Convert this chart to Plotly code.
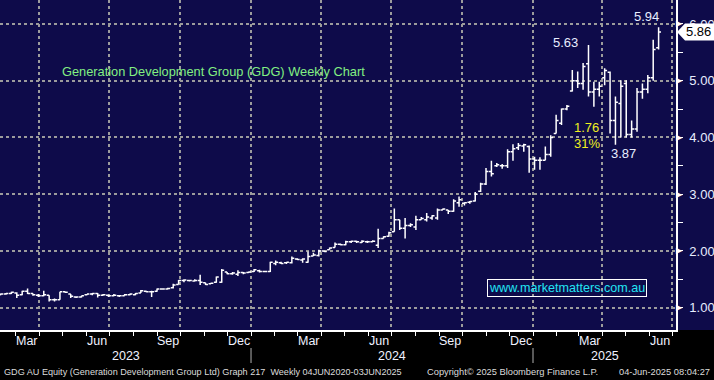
import plotly.graph_objects as go
import pandas as pd

# ---- weekly OHLC ----
opens = [1.23,1.24,1.25,1.26,1.23,1.29,1.25,1.22,1.21,1.22,
         1.14,1.14,1.28,1.24,1.19,1.19,1.23,1.24,1.25,1.22,
         1.22,1.21,1.21,1.21,1.23,1.23,1.26,1.29,1.28,1.29,
         1.33,1.33,1.35,1.41,1.48,1.48,1.47,1.48,1.44,1.42,
         1.45,1.45,1.63,1.60,1.59,1.62,1.62,1.64,1.65,1.64,
         1.64,1.78,1.79,1.79,1.79,1.86,1.84,1.80,1.91,1.92,
         2.00,2.02,2.06,2.12,2.11,2.16,2.17,2.15,2.16,2.16,
         2.10,2.22,2.26,2.34,2.55,2.40,2.45,2.42,2.55,2.55,
         2.58,2.58,2.72,2.72,2.70,2.85,2.84,2.86,2.88,3.05,
         3.18,3.40,3.50,3.50,3.50,3.75,3.82,3.85,3.84,3.62,
         3.60,3.60,3.70,4.07,4.25,4.50,4.82,5.00,4.95,5.30,
         4.80,4.85,5.05,5.15,4.30,4.60,4.95,4.05,4.15,4.80,
         4.85,5.05,5.58]
highs = [1.25,1.26,1.28,1.27,1.30,1.34,1.25,1.24,1.30,1.22,
         1.16,1.28,1.28,1.24,1.20,1.21,1.24,1.26,1.26,1.24,
         1.23,1.24,1.22,1.24,1.25,1.26,1.31,1.30,1.30,1.34,
         1.34,1.35,1.42,1.49,1.50,1.49,1.50,1.58,1.44,1.44,
         1.55,1.68,1.63,1.63,1.66,1.63,1.64,1.68,1.67,1.65,
         1.81,1.83,1.81,1.80,1.90,1.87,1.87,1.99,1.97,2.02,
         2.01,2.06,2.15,2.13,2.18,2.18,2.18,2.19,2.18,2.19,
         2.39,2.26,2.34,2.75,2.55,2.58,2.49,2.62,2.60,2.67,
         2.63,2.75,2.75,2.72,2.91,2.96,2.86,2.88,3.04,3.20,
         3.46,3.59,3.55,3.53,3.79,3.88,3.90,3.89,3.86,3.66,
         3.65,3.84,4.04,4.40,4.51,4.57,5.19,5.16,5.31,5.63,
         4.98,4.98,5.22,5.16,4.72,5.01,5.01,4.30,4.87,4.95,
         5.10,5.72,5.94]
lows = [1.22,1.23,1.24,1.17,1.22,1.24,1.21,1.19,1.20,1.11,
        1.11,1.14,1.26,1.17,1.17,1.18,1.22,1.22,1.18,1.21,
        1.19,1.20,1.19,1.21,1.22,1.22,1.26,1.27,1.19,1.28,
        1.32,1.32,1.34,1.41,1.45,1.46,1.46,1.40,1.40,1.42,
        1.44,1.44,1.59,1.58,1.56,1.59,1.61,1.63,1.62,1.63,
        1.63,1.75,1.77,1.77,1.78,1.84,1.79,1.79,1.91,1.90,
        1.98,2.02,2.06,2.10,2.10,2.14,2.14,2.14,2.14,2.16,
        2.05,2.22,2.25,2.34,2.37,2.22,2.42,2.37,2.55,2.52,
        2.55,2.55,2.72,2.65,2.69,2.78,2.80,2.83,2.87,3.04,
        3.16,3.31,3.48,3.45,3.46,3.59,3.78,3.75,3.38,3.43,
        3.43,3.60,3.66,4.07,4.22,4.48,4.81,4.87,4.84,4.72,
        4.54,4.72,4.92,4.07,3.87,4.00,4.00,4.00,4.10,4.68,
        4.78,5.00,5.55]
closes = [1.24,1.25,1.27,1.22,1.29,1.25,1.23,1.21,1.23,1.14,
          1.14,1.28,1.27,1.20,1.19,1.21,1.24,1.25,1.22,1.23,
          1.21,1.22,1.21,1.23,1.24,1.25,1.30,1.28,1.28,1.33,
          1.33,1.34,1.40,1.48,1.49,1.48,1.48,1.45,1.41,1.43,
          1.54,1.66,1.60,1.61,1.62,1.61,1.63,1.67,1.64,1.64,
          1.80,1.80,1.78,1.80,1.87,1.85,1.86,1.90,1.93,2.00,
          1.99,2.05,2.12,2.11,2.16,2.17,2.16,2.17,2.16,2.17,
          2.22,2.25,2.32,2.55,2.40,2.45,2.46,2.55,2.57,2.60,
          2.62,2.72,2.74,2.70,2.88,2.90,2.85,2.87,3.00,3.18,
          3.40,3.36,3.52,3.50,3.75,3.80,3.86,3.87,3.62,3.60,
          3.60,3.70,4.00,4.30,4.50,4.55,5.00,4.95,5.25,4.80,
          4.85,4.90,5.18,4.30,4.62,4.90,4.05,4.15,4.80,4.85,
          5.05,5.55,5.86]
last_week = "2025-06-13"
dates = pd.date_range(end=last_week, periods=len(opens), freq="7D")

month_labels = ["Mar", "Jun", "Sep", "Dec", "Mar", "Jun", "Sep", "Dec", "Mar", "Jun"]
month_dates = ["2023-03-16", "2023-06-15", "2023-09-15", "2023-12-16",
               "2024-03-16", "2024-06-15", "2024-09-15", "2024-12-16",
               "2025-03-16", "2025-06-15"]
year_labels = ["2023", "2024", "2025"]
year_starts = ["2024-01-01", "2025-01-01"]
price_ticks = [1, 2, 3, 4, 5, 6]

title_text = "Generation Development Group (GDG) Weekly Chart"
site_text = "www.marketmatters.com.au"
footer_left = "GDG AU Equity (Generation Development Group Ltd) Graph 217  Weekly 04JUN2020-03JUN2025"
footer_mid = "Copyright\u00a9 2025 Bloomberg Finance L.P."
footer_right = "04-Jun-2025 08:04:27"

# ---- styling ----
NAVY = "#0e0b4a"
GRID = "#9c9c9c"
LABEL = "#e8eeff"
FONT = "Liberation Sans, Arial, sans-serif"

W, H = 714, 380
PL, PR, PT, PB = 0, 38, 0, 50
PW, PH = W - PL - PR, H - PT - PB
x_range = ["2023-02-09 05:00", "2025-07-05 14:00"]
y_range = [0.607, 6.422]

fig = go.Figure()
fig.add_trace(go.Ohlc(
    x=dates, open=opens, high=highs, low=lows, close=closes,
    increasing=dict(line=dict(color="white", width=1.5)),
    decreasing=dict(line=dict(color="white", width=1.5)),
    tickwidth=0.45, hoverinfo="skip", showlegend=False,
))

def px_x(p):
    return (p - PL) / PW

def px_y(p):
    return (PT + PH - p) / PH

# black strip under the plot
fig.add_shape(type="rect", xref="paper", yref="paper", x0=-0.02, x1=1.1,
              y0=-PB / PH - 0.01, y1=0, fillcolor="black", line_width=0, layer="below")

# year separators
for ys in year_starts:
    fig.add_shape(type="line", xref="x", yref="paper", x0=ys, x1=ys,
                  y0=px_y(348), y1=px_y(363), line=dict(color="#b0b0b0", width=1))

ann = []
for lab, d in zip(month_labels, month_dates):
    ann.append(dict(x=d, y=px_y(341), xref="x", yref="paper", text=lab, showarrow=False,
                    font=dict(family=FONT, size=12.5, color="#f0f2ff"), xanchor="center", yanchor="middle"))
bounds = [pd.Timestamp(x_range[0])] + [pd.Timestamp(s) for s in year_starts] + [pd.Timestamp(x_range[1])]
for lab, a, b in zip(year_labels, bounds[:-1], bounds[1:]):
    mid = a + (b - a) / 2
    ann.append(dict(x=mid, y=px_y(356), xref="x", yref="paper", text=lab, showarrow=False,
                    font=dict(family=FONT, size=12.5, color="#f0f2ff"), xanchor="center", yanchor="middle"))
for txt, xp, anc, fs in [(footer_left, 2, "left", 9.1), (footer_mid, 425, "left", 9.3),
                         (footer_right, 712, "right", 9.3)]:
    ann.append(dict(x=px_x(xp), y=px_y(372), xref="paper", yref="paper", text=txt, showarrow=False,
                    font=dict(family=FONT, size=fs, color="#dcdcdc"), xanchor=anc, yanchor="middle"))
for v in price_ticks:
    ann.append(dict(x=1.0, y=v, xref="paper", yref="y", text="\u25b6", showarrow=False,
                    font=dict(family="DejaVu Sans", size=8, color="white"), xanchor="left", yanchor="middle",
                    xshift=-2))

ann.append(dict(x=px_x(60), y=px_y(72), xref="paper", yref="paper", text=title_text, showarrow=False,
                font=dict(family=FONT, size=12.8, color="#82f082"), xanchor="left", yanchor="middle"))
ann.append(dict(x=px_x(567), y=px_y(288), xref="paper", yref="paper", text=site_text, showarrow=False,
                font=dict(family=FONT, size=12.6, color="#22e4f4"), xanchor="center", yanchor="middle",
                bordercolor="white", borderwidth=1, borderpad=1))

i_peak = max(range(100, 115), key=lambda i: highs[i])
i_low = min(range(i_peak, len(lows)), key=lambda i: lows[i])
drop = highs[i_peak] - lows[i_low]
pct = drop / highs[i_peak] * 100
ann.append(dict(x=dates[i_peak], y=highs[i_peak], text=f"{highs[i_peak]:.2f}", showarrow=False,
                font=dict(family=FONT, size=13, color=LABEL), xanchor="right", yanchor="middle",
                xshift=-8, yshift=2))
ann.append(dict(x=dates[-1], y=highs[-1], text=f"{highs[-1]:.2f}", showarrow=False,
                font=dict(family=FONT, size=13, color=LABEL), xanchor="right", yanchor="middle",
                xshift=2, yshift=11))
ann.append(dict(x=dates[i_low], y=lows[i_low], text=f"{lows[i_low]:.2f}", showarrow=False,
                font=dict(family=FONT, size=13, color=LABEL), xanchor="left", yanchor="middle",
                xshift=-6, yshift=-9))
ann.append(dict(x=dates[106], y=4.17, text=f"{drop:.2f}", showarrow=False,
                font=dict(family=FONT, size=13, color="#f0f020"), xanchor="left", yanchor="middle"))
ann.append(dict(x=dates[106], y=3.885, text=f"{pct:.0f}%", showarrow=False,
                font=dict(family=FONT, size=13, color="#f0f020"), xanchor="left", yanchor="middle"))

# last-price flag
last = closes[-1]
yc = PT + PH - (last - y_range[0]) / (y_range[1] - y_range[0]) * PH
path = (f"M {px_x(677)},{px_y(yc)} L {px_x(685)},{px_y(yc-8.5)} L {px_x(716)},{px_y(yc-8.5)} "
        f"L {px_x(716)},{px_y(yc+8.5)} L {px_x(685)},{px_y(yc+8.5)} Z")
fig.add_shape(type="path", xref="paper", yref="paper", path=path, fillcolor="white",
              line=dict(color="white", width=0), layer="above")
ann.append(dict(x=px_x(698), y=last, xref="paper", yref="y", text=f"{last:.2f}", showarrow=False,
                font=dict(family=FONT, size=13, color="black"), xanchor="center", yanchor="middle"))

fig.update_layout(
    width=W, height=H, margin=dict(l=PL, r=PR, t=PT, b=PB),
    paper_bgcolor=NAVY, plot_bgcolor=NAVY,
    annotations=ann, showlegend=False,
    xaxis=dict(type="date", range=x_range, rangeslider=dict(visible=False),
               dtick="M3", tick0="2023-01-01", showticklabels=False,
               ticks="outside", ticklen=4, tickcolor="white", tickwidth=1,
               showgrid=True, gridcolor=GRID, gridwidth=2, griddash="dot",
               minor=dict(dtick="M1", tick0="2023-01-01", ticks="outside", ticklen=4,
                          tickcolor="white", tickwidth=1, showgrid=False),
               showline=True, linecolor="white", linewidth=1.5, zeroline=False, fixedrange=True),
    yaxis=dict(side="right", range=y_range, tickvals=price_ticks, tickformat=".2f",
               ticks="", ticklabelstandoff=9,
               tickfont=dict(family=FONT, size=13, color=LABEL),
               minor=dict(dtick=0.5, ticks="outside", ticklen=5, tickcolor="white", showgrid=False),
               showgrid=True, gridcolor=GRID, gridwidth=2, griddash="dot",
               showline=True, linecolor="white", linewidth=1.5, zeroline=False, fixedrange=True),
)

fig.write_html("out.html", config={"displayModeBar": False},
               post_script="document.body.style.margin='0';document.body.style.overflow='hidden';")
